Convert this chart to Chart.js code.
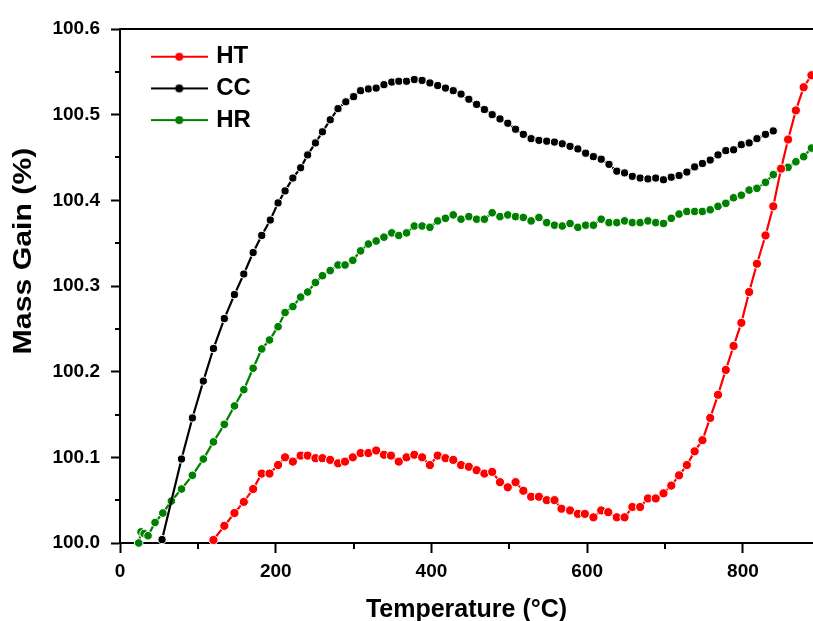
<!DOCTYPE html>
<html>
<head>
<meta charset="utf-8">
<script src="https://cdn.jsdelivr.net/npm/chart.js@4/dist/chart.umd.min.js"></script>
<style>
html,body{margin:0;padding:0;background:#fff;}
#wrap{width:813px;height:621px;}
</style>
</head>
<body>
<div id="wrap"><canvas id="c" width="813" height="621"></canvas></div>
<script>
// ---- data ----
const seriesNames = ['HT', 'CC', 'HR'];
const seriesColors = ['#ff0000', '#000000', '#008000'];

const htTemp = [120,134,147,159,171,182,192,203,212,222,232,241,251,260,270,280,289,299,309,319,329,339,348,358,368,378,388,398,408,418,428,438,448,458,468,478,488,498,508,518,528,538,548,558,567,578,588,597,608,618,627,638,648,658,668,678,688,698,708,718,728,738,748,758,768,778,788,798,808,818,829,839,849,858,868,878,888];
const htMass = [100.0035,100.020,100.035,100.048,100.063,100.081,100.081,100.091,100.100,100.095,100.102,100.102,100.099,100.099,100.097,100.093,100.095,100.100,100.105,100.105,100.108,100.103,100.102,100.095,100.100,100.103,100.100,100.091,100.102,100.099,100.097,100.091,100.089,100.085,100.081,100.083,100.071,100.065,100.071,100.061,100.054,100.054,100.050,100.050,100.040,100.038,100.034,100.034,100.030,100.038,100.036,100.030,100.030,100.042,100.042,100.052,100.052,100.058,100.067,100.079,100.091,100.107,100.120,100.146,100.173,100.202,100.230,100.257,100.293,100.326,100.359,100.393,100.437,100.471,100.505,100.532,100.546];

const ccTemp = [54,79,93,107,120,134,147,159,171,182,193,203,212,222,232,241,251,260,270,280,290,300,309,319,329,339,349,358,368,378,388,398,408,418,428,438,448,458,468,478,488,498,508,518,528,538,548,558,568,578,588,598,608,618,628,638,648,658,668,678,688,698,708,718,728,738,748,758,768,778,788,798,808,818,829,839];
const ccMass = [100.004,100.098,100.146,100.189,100.227,100.262,100.290,100.314,100.339,100.359,100.377,100.397,100.411,100.426,100.438,100.453,100.467,100.480,100.494,100.507,100.515,100.521,100.528,100.530,100.531,100.535,100.538,100.539,100.539,100.541,100.540,100.537,100.534,100.531,100.528,100.524,100.518,100.512,100.506,100.500,100.495,100.490,100.483,100.477,100.472,100.470,100.469,100.468,100.466,100.463,100.460,100.455,100.451,100.448,100.442,100.434,100.432,100.428,100.426,100.425,100.426,100.424,100.427,100.429,100.433,100.439,100.443,100.447,100.453,100.458,100.459,100.465,100.467,100.472,100.477,100.481];

const hrTemp = [24,27,31,36,45,55,66,79,93,107,120,134,147,159,171,182,192,203,212,222,232,241,251,260,270,280,289,299,309,319,329,339,349,358,368,378,388,398,408,418,428,438,448,458,468,478,488,498,508,518,528,538,548,558,568,578,588,598,608,618,628,638,648,658,668,678,688,698,708,718,728,738,748,758,768,778,788,798,808,818,829,839,848,858,868,878,888];
const hrMass = [100.000,100.013,100.011,100.0085,100.024,100.035,100.049,100.063,100.079,100.098,100.118,100.1385,100.160,100.179,100.204,100.2265,100.237,100.2525,100.269,100.276,100.287,100.293,100.304,100.312,100.318,100.3245,100.3245,100.330,100.341,100.349,100.3525,100.357,100.362,100.359,100.362,100.370,100.370,100.3685,100.376,100.379,100.383,100.378,100.381,100.378,100.378,100.3855,100.381,100.383,100.381,100.380,100.376,100.380,100.374,100.371,100.370,100.373,100.3685,100.371,100.371,100.378,100.374,100.374,100.376,100.374,100.374,100.376,100.374,100.373,100.379,100.384,100.387,100.387,100.387,100.389,100.393,100.3965,100.403,100.406,100.412,100.414,100.421,100.430,100.437,100.4385,100.445,100.451,100.461];

const xTicks = [0, 200, 400, 600, 800];
const yTicks = [100.0, 100.1, 100.2, 100.3, 100.4, 100.5, 100.6];
const xTitle = 'Temperature (°C)';
const yTitle = 'Mass Gain (%)';

// ---- helpers ----
const FONT = "'Liberation Sans', Arial, sans-serif";
function pts(xs, ys) { return xs.map((x, i) => ({x: x, y: ys[i]})); }
function legendIcon(color) {
  const c = document.createElement('canvas');
  c.width = 57; c.height = 12;
  const g = c.getContext('2d');
  g.strokeStyle = color; g.lineWidth = 2;
  g.beginPath(); g.moveTo(0, 6); g.lineTo(57, 6); g.stroke();
  g.fillStyle = color;
  g.beginPath(); g.arc(28.5, 6, 4, 0, Math.PI * 2); g.fill();
  return c;
}
const icons = seriesColors.map(legendIcon);

const seriesData = [pts(htTemp, htMass), pts(ccTemp, ccMass), pts(hrTemp, hrMass)];
const radii = [4.6, 4.1, 4.3];

const datasets = seriesNames.map((name, i) => ({
  label: name,
  data: seriesData[i],
  borderColor: seriesColors[i],
  backgroundColor: seriesColors[i],
  pointBackgroundColor: seriesColors[i],
  pointBorderColor: '#ffffff',
  pointBorderWidth: 1,
  pointRadius: radii[i],
  borderWidth: 2.2,
  tension: 0,
  clip: false
}));

const decoPlugin = {
  id: 'deco',
  afterLayout(chart) {
    const a = chart.chartArea;
    if (chart.legend) {
      chart.legend.left = a.left + 26.5;
      chart.legend.top = a.top + 8;
    }
  },
  afterDraw(chart) {
    const ctx = chart.ctx, a = chart.chartArea;
    const xs = chart.scales.x, ys = chart.scales.y;
    ctx.save();
    ctx.strokeStyle = '#000'; ctx.lineWidth = 2;
    // top frame line
    ctx.beginPath(); ctx.moveTo(a.left - 1, a.top); ctx.lineTo(a.right, a.top); ctx.stroke();
    // minor ticks
    ctx.beginPath();
    for (let i = 0; i < xTicks.length; i++) {
      const v = xTicks[i] + 100;
      if (v > xs.max) continue;
      const p = Math.round(xs.getPixelForValue(v));
      ctx.moveTo(p, a.bottom); ctx.lineTo(p, a.bottom + 6);
    }
    for (let i = 0; i < yTicks.length - 1; i++) {
      const v = yTicks[i] + 0.05;
      const p = Math.round(ys.getPixelForValue(v));
      ctx.moveTo(a.left, p); ctx.lineTo(a.left - 5, p);
    }
    ctx.stroke();
    // y axis title (stretched along its length like the reference)
    ctx.fillStyle = '#000';
    ctx.font = "bold 25px " + FONT;
    ctx.textAlign = 'center';
    ctx.textBaseline = 'middle';
    ctx.translate(24, 251);
    ctx.rotate(-Math.PI / 2);
    ctx.scale(1.21, 1);
    ctx.fillText(yTitle, 0, 0);
    ctx.restore();
  }
};

new Chart(document.getElementById('c'), {
  type: 'line',
  data: { datasets: datasets },
  plugins: [decoPlugin],
  options: {
    responsive: false,
    animation: false,
    layout: { autoPadding: false, padding: { top: 29, right: 0, left: 0, bottom: 0 } },
    plugins: {
      tooltip: { enabled: false },
      legend: {
        position: 'chartArea',
        align: 'start',
        labels: {
          usePointStyle: true,
          pointStyleWidth: 50,
          padding: 7.7,
          color: '#000',
          font: { family: FONT, size: 24, weight: 'bold' },
          generateLabels: (chart) => chart.data.datasets.map((ds, i) => ({
            text: ds.label,
            pointStyle: icons[i],
            fillStyle: seriesColors[i],
            strokeStyle: seriesColors[i],
            lineWidth: 0,
            hidden: false,
            datasetIndex: i,
            fontColor: '#000'
          }))
        }
      }
    },
    scales: {
      x: {
        type: 'linear',
        position: 'bottom',
        min: 0, max: 890,
        afterFit(s) { s.height = 78; },
        afterBuildTicks(s) { s.ticks = xTicks.map(v => ({value: v})); },
        ticks: {
          includeBounds: false,
          stepSize: 200,
          maxRotation: 0,
          autoSkip: false,
          padding: 7,
          color: '#000',
          font: { family: FONT, size: 19, weight: 'bold' },
          callback: (v) => String(v)
        },
        grid: { drawOnChartArea: false, drawTicks: true, tickLength: 10, tickWidth: 2, tickColor: '#000' },
        border: { display: true, color: '#000', width: 2 },
        title: {
          display: true, text: xTitle, color: '#000',
          font: { family: FONT, size: 25, weight: 'bold', lineHeight: 0.9 },
          padding: { top: 0, bottom: 0 }
        }
      },
      y: {
        type: 'linear',
        min: 100.0, max: 100.6,
        afterFit(s) { s.width = 120; },
        afterBuildTicks(s) { s.ticks = yTicks.map(v => ({value: v})); },
        ticks: {
          stepSize: 0.1,
          autoSkip: false,
          padding: 11,
          color: '#000',
          font: { family: FONT, size: 19, weight: 'bold' },
          callback: (v) => Number(v).toFixed(1)
        },
        grid: { drawOnChartArea: false, drawTicks: true, tickLength: 9, tickWidth: 2, tickColor: '#000' },
        border: { display: true, color: '#000', width: 2 },
        title: { display: false, text: yTitle }
      }
    }
  }
});
</script>
</body>
</html>
